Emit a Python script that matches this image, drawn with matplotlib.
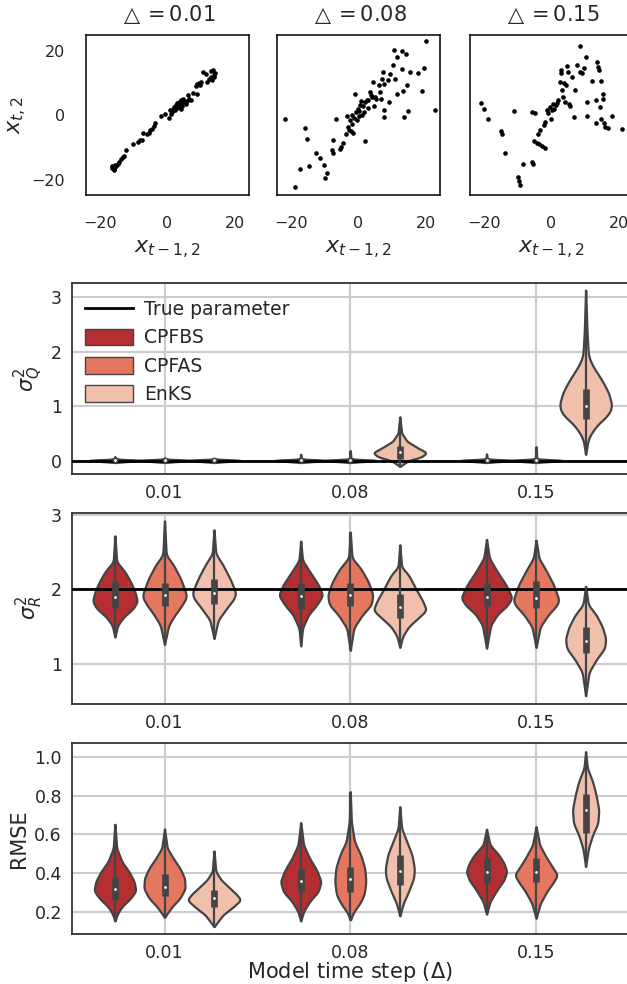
import colorsys
import numpy as np
import matplotlib
matplotlib.use("Agg")
import matplotlib.pyplot as plt
from matplotlib.lines import Line2D
from matplotlib.patches import Patch

# ---------------- data ----------------
deltas = ["0.01", "0.08", "0.15"]
methods = ["CPFBS", "CPFAS", "EnKS"]
scatter_titles = [r"$\triangle = 0.01$", r"$\triangle = 0.08$", r"$\triangle = 0.15$"]

# scatter of x_{t-1,2} vs x_{t,2}
x1 = [-16.0, -15.7, -15.4, -15.9, -15.2, -14.7, -14.2, -13.7, -13.2, -12.7, -12.1, -10.3, -8.6, -8.0,
      -7.4, -7.3, -5.9, -5.4, -5.1, -4.7, -4.1, -3.7, -2.0, -0.8, 0.5, 0.8, 1.2, 1.5, 2.0, 2.5, 2.7,
      2.9, 3.4, 3.7, 3.9, 4.1, 4.4, 4.7, 5.1, 5.7, 6.1, 6.4, 6.9, 7.6, 8.3, 8.6, 8.8, 9.3, 9.6, 10.0,
      10.6, 11.3, 11.6, 12.3, 12.7, 13.2, 13.5, 13.9, 13.7, 3.0, 3.5, 4.0, 2.2, 1.0, 5.5, 4.8, -16.3,
      -15.9, -16.2, 13.6, 12.9]
y1 = [-16.1, -16.6, -15.6, -16.9, -15.9, -15.1, -14.5, -13.5, -13.0, -12.8, -10.7, -9.0, -8.3, -7.8,
      -7.8, -5.5, -5.9, -5.5, -4.7, -4.2, -3.4, -2.4, -0.3, 0.5, -0.7, 1.6, 1.0, 2.1, 2.6, 3.1, 2.4,
      3.8, 4.2, 3.4, 4.7, 2.1, 2.8, 5.2, 4.2, 4.5, 6.2, 5.2, 4.7, 7.0, 9.0, 6.5, 9.9, 10.1, 9.3, 10.4,
      13.5, 13.0, 10.4, 11.4, 13.8, 10.9, 14.2, 13.2, 11.9, 3.0, 2.5, 3.5, 1.8, 0.5, 3.5, 4.0, -16.4,
      -16.3, -15.8, 12.5, 12.0]
x2 = [-21.6, -18.8, -17.2, -15.9, -15.2, -14.7, -12.5, -11.3, -10.3, -10.0, -9.3, -7.8, -7.6, -7.4,
      -6.7, -5.4, -5.1, -4.7, -3.7, -3.4, -3.1, -2.7, -2.5, -2.2, -2.0, -1.8, -1.5, -1.2, -1.0, -0.8,
      -0.5, -0.2, 0.0, 0.2, 0.5, 0.8, 1.0, 1.2, 1.5, 1.8, 2.0, 2.5, 2.7, 2.9, 3.4, 3.7, 3.9, 4.4, 4.7,
      4.9, 5.1, 5.9, 6.4, 6.7, 6.9, 7.1, 7.4, 7.6, 7.6, 8.8, 9.1, 9.3, 10.3, 10.4, 10.8, 11.3, 11.4,
      12.7, 12.7, 13.2, 13.5, 13.9, 14.2, 14.5, 15.2, 17.6, 18.8, 19.4, 19.9, 22.5]
y2 = [-1.2, -22.3, -16.6, -3.8, -7.3, -15.9, -11.7, -13.2, -15.6, -19.5, -18.0, -10.9, -7.8, -11.7,
      -1.3, -10.4, -9.9, -8.6, -5.7, -0.3, -3.6, -4.5, -1.6, -5.0, 0.0, -2.6, -5.5, -0.7, 6.7, 1.0,
      -1.6, 2.1, -0.3, 1.3, 3.1, 4.5, 0.0, 2.8, 1.0, 4.2, -8.1, 4.7, 2.4, 4.7, 7.3, 6.2, 5.7, 10.4, 2.8,
      5.7, 5.2, 9.3, 7.3, 5.2, 11.4, 13.5, 9.9, 1.6, -0.5, 10.9, 4.2, 13.0, 15.6, 20.2, 11.4, 18.2, 6.7,
      20.0, 14.5, 7.6, -0.5, 19.2, 9.3, 1.2, 13.5, 13.2, 7.6, 14.8, 23.1, 1.8]
x3 = [-20.9, -19.9, -18.6, -14.9, -14.5, -13.7, -11.0, -9.8, -9.5, -9.2, -8.3, -5.6, -4.9, -5.6, -5.4,
      -5.1, -4.4, -4.1, -3.7, -3.4, -2.9, -2.2, -2.0, -1.8, -1.2, -1.0, -0.5, -0.2, 0.2, 0.5, 0.8, 1.2,
      1.5, 2.0, 2.5, 2.7, 2.9, 3.1, 3.4, 3.7, 3.9, 4.4, 4.7, 4.9, 5.1, 5.4, 5.9, 6.5, 6.9, 7.4, 8.3, 8.3,
      9.0, 9.6, 10.3, 10.6, 10.6, 11.9, 13.2, 13.5, 13.7, 13.9, 13.2, 14.2, 14.5, 14.7, 15.2, 15.2, 15.5,
      15.9, 16.5, 17.8, 20.8]
y3 = [3.8, 2.1, -1.0, -5.0, -5.9, -11.6, 1.2, -19.2, -20.5, -21.6, -15.3, 1.0, 0.7, -14.5, -15.3, -8.0,
      -8.6, -5.7, -9.0, -4.7, -9.6, -3.1, -10.1, -2.1, 1.8, 0.7, 2.6, -1.3, 1.6, 3.6, 2.1, 3.1, 3.8, 4.7,
      10.4, 14.0, 13.2, 7.8, 5.7, 10.1, 4.2, 9.3, 15.3, 13.5, 3.6, 2.8, 11.9, -0.5, 8.0, 15.6, 21.5, 13.5,
      13.2, 14.8, 18.2, 4.2, -0.3, 10.7, 4.9, 16.6, 15.1, 14.0, -2.4, 2.6, -1.3, 10.6, 6.7, 5.2, -2.4,
      -3.6, -3.8, -0.3, -4.4]
scatter_x = [x1, x2, x3]
scatter_y = [y1, y2, y3]

# violin profiles: value levels (ascending) and relative density
# order: (0.01: CPFBS, CPFAS, EnKS), (0.08: ...), (0.15: ...)
sigq_levels = [
    [-0.03, -0.01, 0.0, 0.01, 0.02, 0.03, 0.045, 0.08],
    [-0.03, -0.01, 0.0, 0.01, 0.02, 0.03, 0.04, 0.06],
    [-0.03, -0.01, 0.0, 0.01, 0.02, 0.03, 0.04, 0.05],
    [-0.03, -0.01, 0.0, 0.01, 0.02, 0.03, 0.045, 0.12],
    [-0.03, -0.01, 0.0, 0.01, 0.02, 0.03, 0.045, 0.19],
    [-0.10, 0.01, 0.07, 0.15, 0.24, 0.36, 0.51, 0.81],
    [-0.03, -0.01, 0.0, 0.01, 0.02, 0.03, 0.045, 0.13],
    [-0.03, -0.01, 0.0, 0.01, 0.02, 0.03, 0.045, 0.26],
    [0.12, 0.42, 0.64, 0.85, 1.00, 1.25, 1.49, 1.74, 1.92, 2.35, 3.13],
]
sigq_density = [
    [0, 40, 70, 75, 55, 15, 2, 0],
    [0, 40, 70, 75, 55, 15, 2, 0],
    [0, 40, 70, 75, 55, 15, 2, 0],
    [0, 40, 70, 75, 55, 15, 2, 0],
    [0, 40, 70, 75, 55, 15, 2, 0],
    [0, 25, 60, 75, 50, 20, 5, 0],
    [0, 40, 70, 75, 55, 15, 2, 0],
    [0, 40, 70, 75, 55, 15, 2, 0],
    [0, 8, 30, 65, 75, 65, 45, 20, 8, 4, 0],
]
sigq_quartiles = [
    (0.0, 0.01, 0.02), (0.0, 0.01, 0.02), (0.0, 0.01, 0.02),
    (0.0, 0.01, 0.02), (0.0, 0.01, 0.02), (0.04, 0.16, 0.28),
    (0.0, 0.01, 0.02), (0.0, 0.01, 0.02), (0.76, 1.00, 1.32),
]

sigr_levels = [
    [1.36, 1.52, 1.63, 1.74, 1.84, 1.97, 2.10, 2.24, 2.37, 2.72],
    [1.26, 1.52, 1.66, 1.79, 1.90, 1.99, 2.15, 2.33, 2.46, 2.92],
    [1.34, 1.59, 1.74, 1.88, 1.96, 2.15, 2.33, 2.48, 2.80],
    [1.24, 1.48, 1.66, 1.79, 1.92, 2.06, 2.24, 2.39, 2.65],
    [1.18, 1.48, 1.66, 1.79, 1.92, 2.10, 2.28, 2.42, 2.77],
    [1.22, 1.37, 1.50, 1.63, 1.72, 1.84, 2.01, 2.19, 2.30, 2.60],
    [1.21, 1.52, 1.66, 1.79, 1.89, 2.06, 2.24, 2.42, 2.67],
    [1.22, 1.50, 1.66, 1.79, 1.86, 2.06, 2.24, 2.42, 2.66],
    [0.57, 0.89, 1.05, 1.21, 1.34, 1.50, 1.66, 1.79, 2.04],
]
sigr_density = [
    [0, 8, 25, 52, 64, 57, 45, 28, 5, 0],
    [0, 12, 30, 50, 63, 58, 45, 25, 5, 0],
    [0, 12, 35, 58, 62, 45, 25, 5, 0],
    [0, 5, 22, 45, 62, 50, 25, 5, 0],
    [0, 10, 35, 60, 65, 52, 30, 5, 0],
    [0, 8, 25, 55, 75, 65, 45, 25, 5, 0],
    [0, 12, 30, 60, 72, 55, 30, 8, 0],
    [0, 12, 35, 60, 65, 50, 30, 8, 0],
    [0, 10, 30, 55, 58, 48, 30, 8, 0],
]
sigr_quartiles = [
    (1.75, 1.90, 2.11), (1.77, 1.92, 2.09), (1.81, 1.95, 2.14),
    (1.74, 1.91, 2.08), (1.77, 1.93, 2.09), (1.61, 1.76, 1.94),
    (1.77, 1.90, 2.08), (1.75, 1.89, 2.11), (1.14, 1.31, 1.49),
]

rmse_levels = [
    [0.155, 0.195, 0.229, 0.272, 0.310, 0.358, 0.409, 0.460, 0.529, 0.652],
    [0.174, 0.229, 0.272, 0.323, 0.375, 0.426, 0.478, 0.529, 0.628],
    [0.126, 0.186, 0.229, 0.263, 0.289, 0.323, 0.366, 0.409, 0.515],
    [0.155, 0.203, 0.255, 0.306, 0.358, 0.418, 0.478, 0.546, 0.661],
    [0.161, 0.203, 0.238, 0.289, 0.358, 0.426, 0.495, 0.563, 0.666, 0.820],
    [0.181, 0.246, 0.306, 0.375, 0.426, 0.495, 0.563, 0.632, 0.743],
    [0.190, 0.255, 0.315, 0.366, 0.409, 0.452, 0.495, 0.546, 0.627],
    [0.169, 0.246, 0.306, 0.358, 0.392, 0.435, 0.478, 0.546, 0.640],
    [0.435, 0.529, 0.597, 0.657, 0.726, 0.803, 0.872, 0.940, 1.026],
]
rmse_density = [
    [0, 8, 20, 45, 60, 55, 40, 20, 5, 0],
    [0, 22, 45, 60, 58, 45, 25, 8, 0],
    [0, 25, 55, 75, 65, 45, 20, 5, 0],
    [0, 8, 25, 50, 58, 45, 25, 8, 0],
    [0, 10, 25, 40, 45, 42, 30, 12, 3, 0],
    [0, 10, 25, 40, 42, 35, 20, 5, 0],
    [0, 10, 30, 50, 58, 50, 35, 10, 0],
    [0, 12, 30, 50, 60, 45, 30, 10, 0],
    [0, 8, 20, 35, 38, 30, 20, 5, 0],
]
rmse_quartiles = [
    (0.263, 0.318, 0.383), (0.281, 0.332, 0.395), (0.229, 0.272, 0.315),
    (0.303, 0.358, 0.421), (0.303, 0.370, 0.435), (0.340, 0.414, 0.495),
    (0.349, 0.409, 0.478), (0.354, 0.409, 0.478), (0.606, 0.726, 0.806),
]

true_sigma_q = 0.0
true_sigma_r = 2.0

# ---------------- styling ----------------
TXT = "#262626"
EDGE = "#444444"
GRID = "#cccccc"


def desaturate(c, prop):
    h, l, s = colorsys.rgb_to_hls(*c[:3])
    return colorsys.hls_to_rgb(h, l, s * prop)


reds = matplotlib.colormaps["Reds"]
palette = [desaturate(reds(v), 0.75) for v in (0.75, 0.5, 0.25)]

plt.rcParams.update({
    "font.family": ["DejaVu Sans"],
    "text.color": TXT,
    "axes.labelcolor": TXT,
    "xtick.color": TXT,
    "ytick.color": TXT,
    "mathtext.fontset": "dejavusans",
})

W, H = 627, 984
fig = plt.figure(figsize=(W / 100, H / 100), dpi=100)


def box(l, t, r, b):
    return [l / W, 1 - b / H, (r - l) / W, (b - t) / H]


# ---- scatter row ----
scatter_lefts = [86, 277, 470]
for i in range(3):
    l = scatter_lefts[i]
    ax = fig.add_axes(box(l, 35, l + 163, 195))
    ax.scatter(scatter_x[i], scatter_y[i], s=11, c="black", linewidths=0, zorder=3)
    ax.set_xlim(-24, 24)
    ax.set_ylim(-24.8, 25)
    ax.set_xticks([-20, 0, 20])
    ax.set_yticks([-20, 0, 20])
    ax.tick_params(axis="x", length=0, labelsize=11.5, pad=15)
    ax.tick_params(axis="y", length=0, labelsize=11.5, pad=15)
    for s in ax.spines.values():
        s.set_color("black")
        s.set_linewidth(1.1)
    ax.set_title(scatter_titles[i], fontsize=15, pad=10, color=TXT)
    ax.set_xlabel(r"$x_{t-1,2}$", fontsize=16, labelpad=6)
    if i == 0:
        ax.set_ylabel(r"$x_{t,2}$", fontsize=16, labelpad=2)
    else:
        ax.tick_params(labelleft=False)

HALF = 0.138
DMAX = 75.0
offsets = [-0.8 / 3, 0.0, 0.8 / 3]


def draw_violin(ax, pos, levels, dens, quart, color):
    levels = np.asarray(levels, float)
    dens = np.asarray(dens, float) / DMAX
    y = np.linspace(levels[0], levels[-1], 400)
    w = np.interp(y, levels, dens)
    k = np.ones(25) / 25
    ws = np.convolve(np.pad(w, 12), k, mode="valid")
    ws = ws / ws.max() * dens.max()
    ws[0] = ws[-1] = 0
    hw = ws * HALF
    ax.fill_betweenx(y, pos - hw, pos + hw, facecolor=color, edgecolor=EDGE,
                     linewidth=1.6, zorder=2)
    q1, med, q3 = quart
    ax.plot([pos, pos], [levels[0], levels[-1]], color=EDGE, lw=1.6,
            solid_capstyle="butt", zorder=4)
    ax.plot([pos, pos], [q1, q3], color=EDGE, lw=4.8, solid_capstyle="butt", zorder=4)
    ax.scatter([pos], [med], s=9, c="white", edgecolors=EDGE, linewidths=1.0, zorder=5)


def violin_panel(rect, levels, dens, quarts, ylim, yticks, ylabel, truth=None, labelpad=6):
    ax = fig.add_axes(rect)
    ax.set_xlim(-0.5, 2.5)
    ax.set_ylim(*ylim)
    ax.set_axisbelow(True)
    ax.grid(True, color=GRID, lw=1.5)
    for ci in range(3):
        for mi in range(3):
            k = ci * 3 + mi
            draw_violin(ax, ci + offsets[mi], levels[k], dens[k], quarts[k], palette[mi])
    if truth is not None:
        ax.axhline(truth, color="black", lw=2.0, zorder=3)
    ax.set_xticks(range(3))
    ax.set_xticklabels(deltas)
    ax.set_yticks(yticks)
    ax.tick_params(length=0, labelsize=12.5, pad=7)
    for s in ax.spines.values():
        s.set_color("#333333")
        s.set_linewidth(1.3)
    ax.set_ylabel(ylabel, fontsize=15, labelpad=labelpad)
    return ax


ax1 = violin_panel(box(71.6, 283, 629, 474), sigq_levels, sigq_density, sigq_quartiles,
                   (-0.24, 3.26), [0, 1, 2, 3], r"$\sigma^2_Q$", truth=true_sigma_q, labelpad=4)
handles = [Line2D([0], [0], color="black", lw=2.0)] + \
          [Patch(facecolor=palette[i], edgecolor=EDGE, linewidth=1.0) for i in range(3)]
ax1.legend(handles, ["True parameter"] + methods, loc="upper left", frameon=False,
           fontsize=13.5, handlelength=2.6, handleheight=1.0, handletextpad=0.55,
           labelspacing=0.5, borderaxespad=0.3, bbox_to_anchor=(0.0, 0.98))

ax2 = violin_panel(box(71.6, 512.7, 629, 704), sigr_levels, sigr_density, sigr_quartiles,
                   (0.46, 3.03), [1, 2, 3], r"$\sigma^2_R$", truth=true_sigma_r, labelpad=4)

ax3 = violin_panel(box(71.6, 743, 629, 934), rmse_levels, rmse_density, rmse_quartiles,
                   (0.088, 1.07), [0.2, 0.4, 0.6, 0.8, 1.0], "RMSE", labelpad=4)
ax3.set_xlabel(r"Model time step ($\Delta$)", fontsize=15, labelpad=-1)

fig.savefig("out.png", dpi=100)
